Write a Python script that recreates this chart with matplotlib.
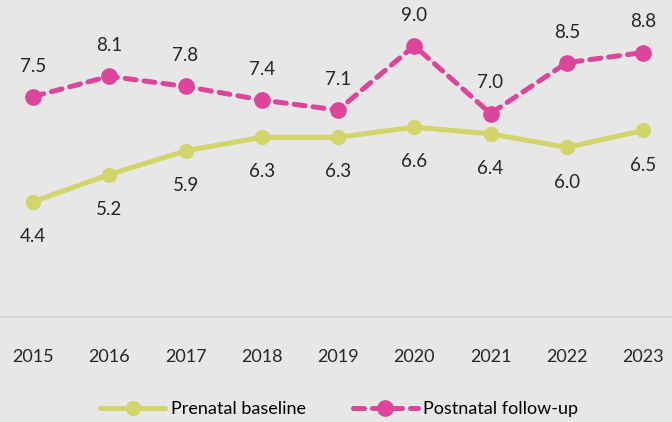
import matplotlib.pyplot as plt

# --- DATA ---
years = [2015, 2016, 2017, 2018, 2019, 2020, 2021, 2022, 2023]
prenatal = [4.4, 5.2, 5.9, 6.3, 6.3, 6.6, 6.4, 6.0, 6.5]
postnatal = [7.5, 8.1, 7.8, 7.4, 7.1, 9.0, 7.0, 8.5, 8.8]

BG = '#e6e7e6'
YELLOW = '#d3d46a'
PINK = '#dc4599'

plt.rcParams['font.family'] = ['Lato', 'DejaVu Sans']

fig = plt.figure(figsize=(6.72, 4.22), dpi=100, facecolor=BG)
ax = fig.add_axes([0, 0.249, 1, 0.751], facecolor=BG)

ax.plot(years, prenatal, color=YELLOW, lw=3.6, marker='o', ms=10,
        label='Prenatal baseline', solid_capstyle='round')
ax.plot(years, postnatal, color=PINK, lw=3.6, marker='o', ms=11,
        ls=(0, (2.2, 1.6)), label='Postnatal follow-up', dash_capstyle='round')

for x, v in zip(years, prenatal):
    ax.annotate(f'{v:.1f}', (x, v), xytext=(0, -25), textcoords='offset points',
                ha='center', va='center', fontsize=13.5, color='#262626')
for x, v in zip(years, postnatal):
    ax.annotate(f'{v:.1f}', (x, v), xytext=(0, 22), textcoords='offset points',
                ha='center', va='center', fontsize=13.5, color='#262626')

ax.set_xlim(2014.567, 2023.38)
ax.set_ylim(1, 10.35)
ax.set_xticks(years)
ax.set_xticklabels([str(y) for y in years], fontsize=13, color='#262626')
ax.tick_params(axis='x', length=0, pad=23)
ax.set_yticks([])
for s in ['top', 'left', 'right']:
    ax.spines[s].set_visible(False)
ax.spines['bottom'].set_color('#d6d6d6')
ax.spines['bottom'].set_linewidth(1.2)

fig.legend(loc='center', bbox_to_anchor=(0.505, 0.03), ncol=2, frameon=False,
           fontsize=13, handlelength=3.6, columnspacing=2.6, handletextpad=0.3)

fig.savefig('out.png', dpi=100, facecolor=BG)
